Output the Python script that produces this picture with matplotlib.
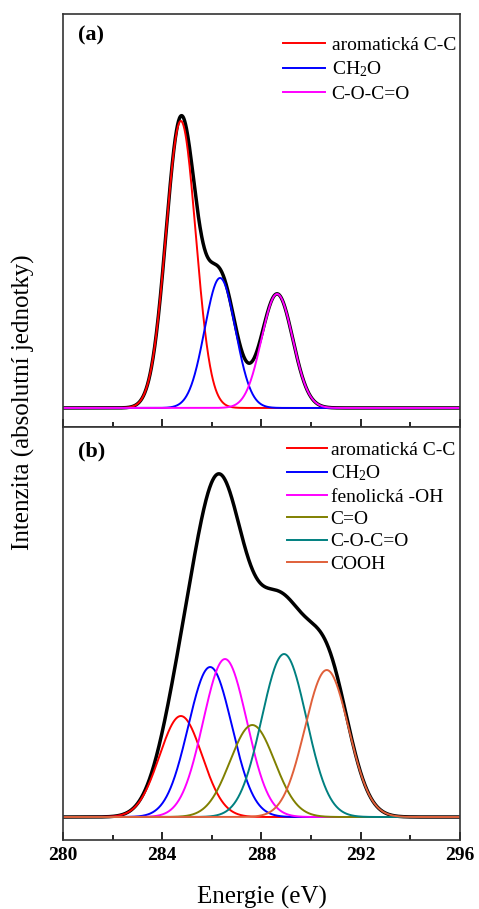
import matplotlib
matplotlib.use('Agg')
import matplotlib.pyplot as plt
import numpy as np

plt.rcParams['font.family'] = ['Liberation Serif', 'DejaVu Serif']
plt.rcParams['mathtext.fontset'] = 'custom'
plt.rcParams['mathtext.rm'] = 'Liberation Serif'
plt.rcParams['mathtext.it'] = 'Liberation Serif:italic'
plt.rcParams['mathtext.bf'] = 'Liberation Serif:bold'

# fitted C1s components (peak centre eV, height a.u., gaussian sigma eV)
labels_a = ['aromatická C-C', 'CH$_\\mathrm{2}$O', 'C-O-C=O']
colors_a = ['#ff0000', '#0000ff', '#ff00ff']
center_a = [284.75, 286.33, 288.63]
height_a = [287, 130, 114]
sigma_a = [0.60, 0.62, 0.63]

labels_b = ['aromatická C-C', 'CH$_\\mathrm{2}$O', 'fenolická -OH', 'C=O', 'C-O-C=O', 'COOH']
colors_b = ['#ff0000', '#0000ff', '#ff00ff', '#808000', '#008080', '#e0603a']
center_b = [284.75, 285.93, 286.53, 287.63, 288.91, 290.63]
height_b = [101, 150, 158, 92, 163, 147]
sigma_b = [0.86, 0.88, 0.88, 0.90, 0.90, 0.88]

energy = np.linspace(280, 296, 1200)

fig = plt.figure(figsize=(4.79, 9.09), dpi=100)
ax_a = fig.add_axes([0.1315, 0.5303, 0.8288, 0.4543])
ax_b = fig.add_axes([0.1315, 0.0759, 0.8288, 0.4543])


def draw(ax, labels, colors, centers, heights, sigmas):
    total = np.zeros_like(energy)
    comps = []
    for c, h, s in zip(centers, heights, sigmas):
        g = h * np.exp(-0.5 * ((energy - c) / s) ** 2)
        comps.append(g)
        total += g
    ax.plot(energy, total, color='black', lw=2.5)
    for g, col, lab in zip(comps, colors, labels):
        ax.plot(energy, g, color=col, lw=1.4, label=lab)
    ax.set_xlim(280, 296)
    ax.set_xticks([280, 284, 288, 292, 296])
    ax.set_xticks([282, 286, 290, 294], minor=True)
    ax.set_yticks([])
    ax.tick_params(axis='x', which='major', direction='in', length=6, width=1.2,
                   labelsize=14, pad=5)
    ax.tick_params(axis='x', which='minor', direction='in', length=3.5, width=1.2)
    for sp in ax.spines.values():
        sp.set_linewidth(1.2)
        sp.set_color('#333333')


draw(ax_a, labels_a, colors_a, center_a, height_a, sigma_a)
ax_a.set_ylim(-19, 394)
ax_a.tick_params(axis='x', labelbottom=False)
ax_a.text(0.038, 0.947, '(a)', transform=ax_a.transAxes, fontsize=16,
          fontweight='bold', va='center', ha='left')
ax_a.legend(loc='upper left', bbox_to_anchor=(0.554, 0.946), frameon=False,
            fontsize=14, borderpad=0, borderaxespad=0, handlelength=2.15,
            handletextpad=0.35, labelspacing=0.3)

draw(ax_b, labels_b, colors_b, center_b, height_b, sigma_b)
ax_b.set_ylim(-23, 390)
for t in ax_b.get_xticklabels():
    t.set_fontweight('bold')
ax_b.text(0.038, 0.94, '(b)', transform=ax_b.transAxes, fontsize=16,
          fontweight='bold', va='center', ha='left')
ax_b.legend(loc='upper left', bbox_to_anchor=(0.564, 0.965), frameon=False,
            fontsize=14, borderpad=0, borderaxespad=0, handlelength=2.05,
            handletextpad=0.2, labelspacing=0.24)
ax_b.set_xlabel('Energie (eV)', fontsize=18, labelpad=16)

fig.text(0.048, 0.557, 'Intenzita (absolutní jednotky)', rotation=90,
         fontsize=18, ha='center', va='center')

fig.savefig('out.png', dpi=100)
